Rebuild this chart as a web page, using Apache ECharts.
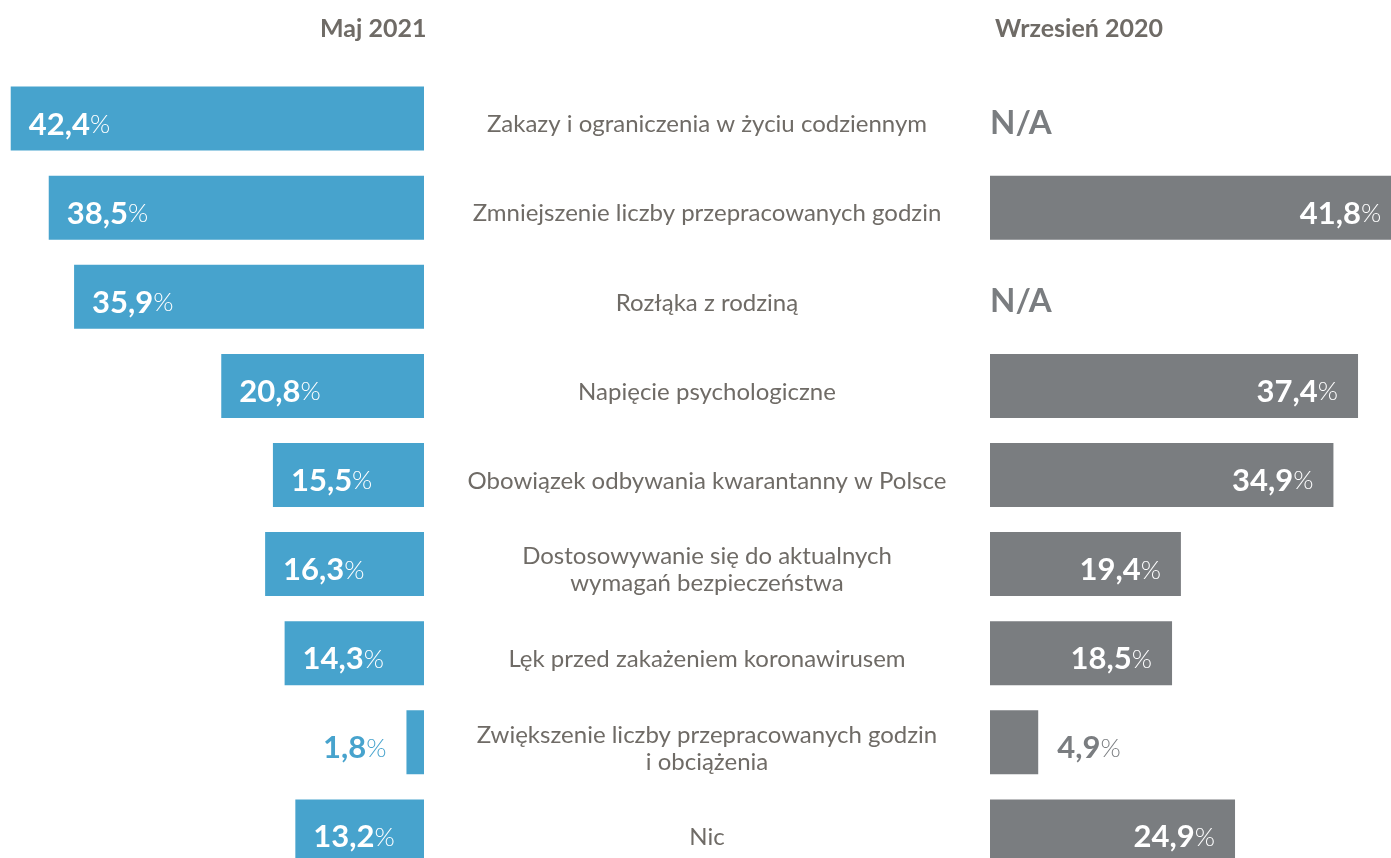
<!DOCTYPE html>
<html>
<head>
<meta charset="utf-8">
<script src="https://cdn.jsdelivr.net/npm/echarts@6/dist/echarts.min.js"></script>
<style>
  html, body { margin: 0; padding: 0; background: #fff; }
  #chart { width: 1391px; height: 858px; }
</style>
</head>
<body>
<div id="chart"></div>
<script>
const categories = [
  'Zakazy i ograniczenia w życiu codziennym',
  'Zmniejszenie liczby przepracowanych godzin',
  'Rozłąka z rodziną',
  'Napięcie psychologiczne',
  'Obowiązek odbywania kwarantanny w Polsce',
  'Dostosowywanie się do aktualnych\nwymagań bezpieczeństwa',
  'Lęk przed zakażeniem koronawirusem',
  'Zwiększenie liczby przepracowanych godzin\ni obciążenia',
  'Nic'
];
const maj2021 = [42.4, 38.5, 35.9, 20.8, 15.5, 16.3, 14.3, 1.8, 13.2];
const wrzesien2020 = [null, 41.8, null, 37.4, 34.9, 19.4, 18.5, 4.9, 24.9];
const titles = ['Maj 2021', 'Wrzesień 2020'];

const BLUE = '#47a3cd';
const GRAY = '#7a7d80';
const TEXT = '#6f6b66';
const FONT = 'Lato';

function fmt(v) {
  return v.toFixed(1).replace('.', ',');
}

function richFor(color) {
  return {
    v: { fontFamily: FONT, fontSize: 31, fontWeight: 'bold', color: color },
    p: { fontFamily: FONT, fontSize: 26, fontWeight: 300, color: color }
  };
}

// small bars get the label outside, in the bar colour
function leftItem(v) {
  const small = v < 5;
  return {
    value: v,
    label: {
      show: true,
      position: small ? 'left' : 'insideLeft',
      distance: small ? 20 : 18,
      offset: [0, 6],
      formatter: '{v|' + fmt(v) + '}{p|%}',
      rich: richFor(small ? BLUE : '#fff')
    }
  };
}

function rightItem(v) {
  if (v === null) {
    return {
      value: 0,
      label: {
        show: true,
        position: 'right',
        distance: 0,
        offset: [0, 5],
        formatter: 'N/A',
        fontFamily: FONT,
        fontSize: 33,
        fontWeight: 'bold',
        color: GRAY
      }
    };
  }
  const small = v < 5;
  return {
    value: v,
    label: {
      show: true,
      position: small ? 'right' : 'insideRight',
      distance: small ? 19 : 20,
      offset: [0, 6],
      formatter: '{v|' + fmt(v) + '}{p|%}',
      rich: richFor(small ? GRAY : '#fff')
    }
  };
}

const chart = echarts.init(document.getElementById('chart'));

const hiddenCat = {
  type: 'category', data: categories, inverse: true,
  axisLine: { show: false }, axisTick: { show: false }, axisLabel: { show: false }
};

const option = {
  animation: false,
  backgroundColor: '#fff',
  title: [
    {
      text: titles[0], left: 315, top: 11,
      textStyle: { fontFamily: FONT, fontSize: 25, fontWeight: 'bold', color: TEXT }
    },
    {
      text: titles[1], left: 990, top: 11,
      textStyle: { fontFamily: FONT, fontSize: 25, fontWeight: 'bold', color: TEXT }
    }
  ],
  grid: [
    { left: 0, width: 424, top: 74, height: 802, outerBoundsMode: 'none', containLabel: false },
    { left: 990, width: 401, top: 74, height: 802, outerBoundsMode: 'none', containLabel: false },
    // category names sit a little below the bar centres
    { left: 0, width: 424, top: 80, height: 802, outerBoundsMode: 'none', containLabel: false }
  ],
  xAxis: [
    { gridIndex: 0, type: 'value', min: 0, max: 43.5, inverse: true, show: false },
    { gridIndex: 1, type: 'value', min: 0, max: 40.75, show: false },
    { gridIndex: 2, type: 'value', min: 0, max: 43.5, show: false }
  ],
  yAxis: [
    Object.assign({ gridIndex: 0 }, hiddenCat),
    Object.assign({ gridIndex: 1 }, hiddenCat),
    {
      gridIndex: 2, type: 'category', data: categories, inverse: true,
      position: 'right',
      axisLine: { show: false }, axisTick: { show: false },
      axisLabel: {
        margin: 283, align: 'center',
        fontFamily: FONT, fontSize: 24, lineHeight: 27, color: TEXT
      }
    }
  ],
  series: [
    {
      name: titles[0], type: 'bar', xAxisIndex: 0, yAxisIndex: 0,
      barWidth: 64, itemStyle: { color: BLUE },
      data: maj2021.map(leftItem)
    },
    {
      name: titles[1], type: 'bar', xAxisIndex: 1, yAxisIndex: 1,
      barWidth: 64, clip: false, itemStyle: { color: GRAY },
      data: wrzesien2020.map(rightItem)
    }
  ]
};

chart.setOption(option);
</script>
</body>
</html>
